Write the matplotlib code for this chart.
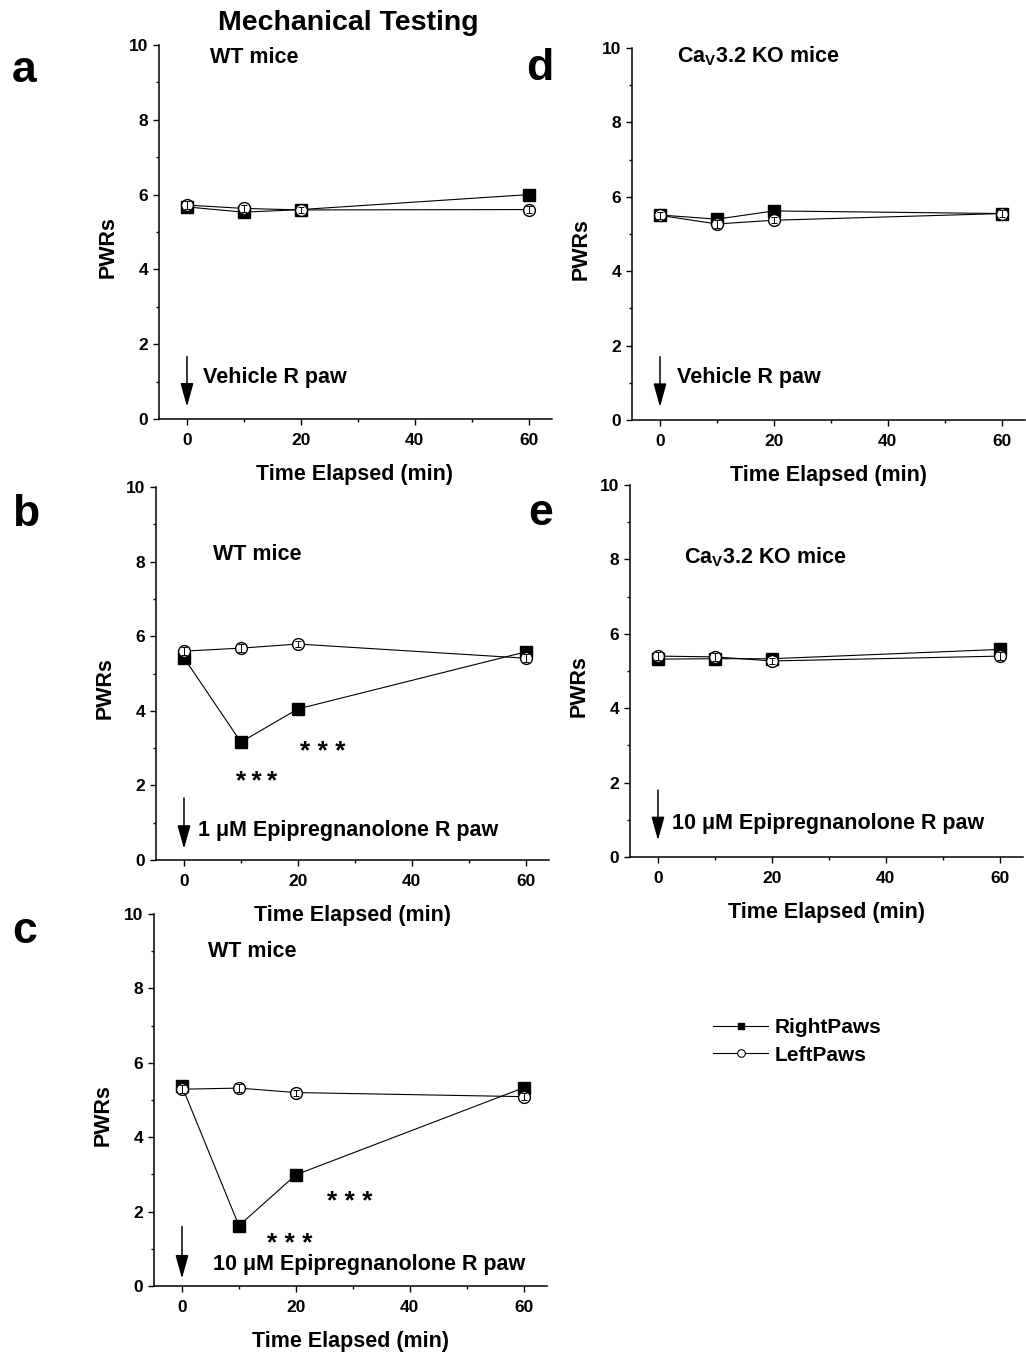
#!/usr/bin/python3

# Mechanical testing: paw withdrawal responses, five panels (a-e)

import numpy as np
import matplotlib
matplotlib.use("Agg")
import matplotlib.pyplot as plt
from matplotlib.lines import Line2D

plt.rcParams['font.family'] = ['Liberation Sans', 'DejaVu Sans']
plt.rcParams['font.weight'] = 'bold'
plt.rcParams['mathtext.fontset'] = 'custom'
plt.rcParams['mathtext.rm'] = 'Liberation Sans:bold'
plt.rcParams['mathtext.bf'] = 'Liberation Sans:bold'
plt.rcParams['mathtext.it'] = 'Liberation Sans:bold'

# time points (min)
time_points = [0, 10, 20, 60]

# mean PWRs per panel
right_a = [5.67, 5.53, 5.60, 6.00]
left_a = [5.72, 5.63, 5.59, 5.60]
right_b = [5.42, 3.16, 4.05, 5.58]
left_b = [5.60, 5.68, 5.79, 5.41]
right_c = [5.37, 1.62, 2.99, 5.33]
left_c = [5.29, 5.32, 5.20, 5.09]
right_d = [5.51, 5.40, 5.62, 5.55]
left_d = [5.50, 5.27, 5.37, 5.55]
right_e = [5.32, 5.33, 5.33, 5.58]
left_e = [5.40, 5.38, 5.27, 5.40]

# error bars (SEM)
right_err = [0.10, 0.08, 0.08, 0.10]
left_err = [0.10, 0.10, 0.08, 0.10]

W, H = 1026, 1353
fig = plt.figure(figsize=(W / 100, H / 100), dpi=100)

KO_LABEL = r'Ca$_\mathrm{V}$3.2 KO mice'

# left, top, height in pixels, panel letter, letter position, group label, treatment label, stars
panels = [
    dict(box=(158.5, 45, 374), right=right_a, left=left_a, letter='a', letter_xy=(12, 82),
         group=('WT mice', 4.0, 9.52), treat=('Vehicle R paw', 2.8, 0.97), arrow=(1.67, 0.33), stars=[]),
    dict(box=(155.5, 487, 373), right=right_b, left=left_b, letter='b', letter_xy=(12, 526),
         group=('WT mice', 5.1, 8.04), treat=('1 \u03bcM Epipregnanolone R paw', 2.4, 0.64),
         arrow=(1.66, 0.30), stars=[('*\u2009*\u2009*', 12.8, 1.90), ('* * *', 24.4, 2.70)]),
    dict(box=(153.5, 914, 372), right=right_c, left=left_c, letter='c', letter_xy=(12, 943),
         group=('WT mice', 4.5, 8.84), treat=('10 \u03bcM Epipregnanolone R paw', 5.4, 0.43),
         arrow=(1.60, 0.20), stars=[('* * *', 18.9, 0.94), ('* * *', 29.5, 2.06)]),
    dict(box=(631.5, 48, 372), right=right_d, left=left_d, letter='d', letter_xy=(526, 80),
         group=(KO_LABEL, 3.0, 9.62), treat=('Vehicle R paw', 3.0, 0.99), arrow=(1.70, 0.35), stars=[]),
    dict(box=(629.5, 485, 372), right=right_e, left=left_e, letter='e', letter_xy=(528, 525),
         group=(KO_LABEL, 4.6, 7.90), treat=('10 \u03bcM Epipregnanolone R paw', 2.5, 0.75),
         arrow=(1.80, 0.45), stars=[]),
]

AX_WIDTH = 393

for p in panels:
    left_px, top_px, height_px = p['box']
    ax = fig.add_axes([left_px / W, 1 - (top_px + height_px) / H, AX_WIDTH / W, height_px / H])

    # connecting lines first, then markers on top
    ax.plot(time_points, p['right'], color='k', lw=0.8, zorder=2)
    ax.plot(time_points, p['left'], color='k', lw=0.8, zorder=2)
    ax.plot(time_points, p['right'], ls='none', marker='s', ms=8, mfc='k', mec='k', zorder=3)
    ax.plot(time_points, p['left'], ls='none', marker='o', ms=8.5, mfc='white', mec='k', mew=1.0, zorder=4)
    ax.errorbar(time_points, p['left'], yerr=left_err, fmt='none', ecolor='k', elinewidth=0.7,
                capsize=2.5, capthick=0.7, zorder=5)
    ax.errorbar(time_points, p['right'], yerr=right_err, fmt='none', ecolor='k', elinewidth=0.7,
                capsize=2.5, capthick=0.7, zorder=2.5)

    ax.set_xlim(-5, 64)
    ax.set_ylim(0, 10)
    ax.set_xticks([0, 20, 40, 60])
    ax.set_xticks([10, 30, 50], minor=True)
    ax.set_yticks([0, 2, 4, 6, 8, 10])
    ax.set_yticks([1, 3, 5, 7, 9], minor=True)
    ax.spines['top'].set_visible(False)
    ax.spines['right'].set_visible(False)
    for s in ('left', 'bottom'):
        ax.spines[s].set_linewidth(1.1)
    ax.tick_params(which='major', direction='out', length=4.3, width=1.0, labelsize=12.5)
    ax.tick_params(which='minor', direction='out', length=2.5, width=1.0)
    ax.tick_params(axis='x', which='major', pad=5.5)
    ax.tick_params(axis='y', which='major', pad=3.0)
    ax.patch.set_visible(False)

    ax.set_xlabel('Time Elapsed (min)', fontsize=15.5, fontweight='bold')
    ax.set_ylabel('PWRs', fontsize=15.5, fontweight='bold')
    ax.xaxis.set_label_coords(0.5, -0.12)
    ax.yaxis.set_label_coords(-0.102, 0.46)

    txt, tx, ty = p['group']
    ax.text(tx, ty, txt, fontsize=15.5, fontweight='bold', va='baseline', ha='left')
    txt, tx, ty = p['treat']
    ax.text(tx, ty, txt, fontsize=15.5, fontweight='bold', va='baseline', ha='left')
    y_from, y_to = p['arrow']
    ax.annotate('', xy=(0, y_to), xytext=(0, y_from),
                arrowprops=dict(arrowstyle='-|>,head_length=0.72,head_width=0.2', mutation_scale=20,
                                lw=1.1, color='k', shrinkA=0, shrinkB=0))
    for txt, sx, sy in p['stars']:
        ax.text(sx, sy, txt, fontsize=19, fontweight='bold', va='baseline', ha='center')

    lx, ly = p['letter_xy']
    fig.text(lx / W, 1 - ly / H, p['letter'], fontsize=32, fontweight='bold', va='baseline', ha='left')

fig.text(348 / W, 1 - 30 / H, 'Mechanical Testing', fontsize=20.5, fontweight='bold',
         va='baseline', ha='center')

handles = [
    Line2D([], [], color='k', lw=0.8, marker='s', ms=5, mfc='k', mec='k'),
    Line2D([], [], color='k', lw=0.8, marker='o', ms=5.5, mfc='white', mec='k', mew=0.8),
]
fig.legend(handles, ['RightPaws', 'LeftPaws'], loc='center left',
           bbox_to_anchor=(713 / W, 1 - 1041.5 / H), frameon=False, borderaxespad=0, borderpad=0,
           handlelength=2.65, handletextpad=0.3, labelspacing=0.4,
           prop=dict(size=15, weight='bold'))

fig.savefig('out.png', dpi=100)
